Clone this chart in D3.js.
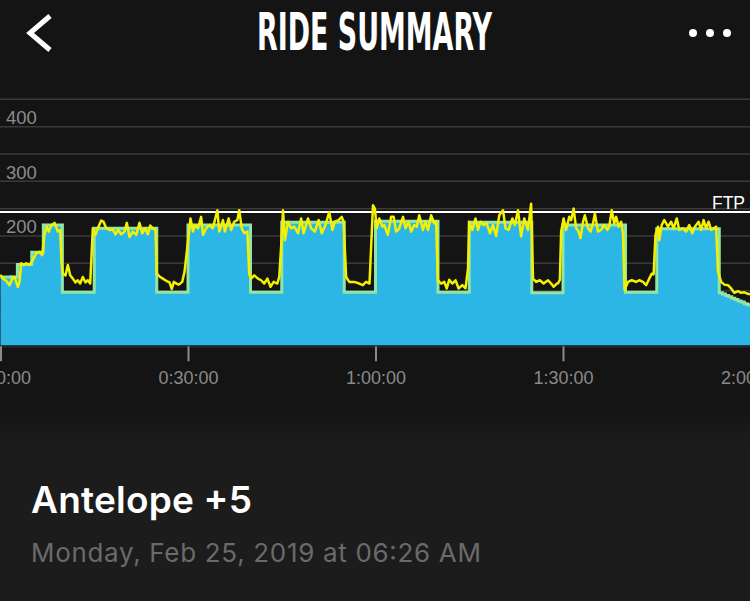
<!DOCTYPE html>
<html>
<head>
<meta charset="utf-8">
<script src="https://cdn.jsdelivr.net/npm/d3@7"></script>
<style>
  html, body { margin: 0; padding: 0; background: #141414; }
  svg { display: block; }
</style>
</head>
<body>
<svg id="chart" width="750" height="601"></svg>
<script>
// target (ERG) profile: step starts in minutes and watts
var targetStart = [0, 2.7, 5, 6.85, 9.9, 15, 25, 30, 40, 45, 55, 60, 70, 75, 85, 90, 100, 105, 115,
                   115.5, 116, 116.5, 117, 117.5, 118, 118.5, 119, 119.5, 120];
var targetWatts = [125, 148, 170, 220, 97, 214, 97, 220, 97, 225, 97, 227, 97, 225, 96, 220, 97, 213, 96,
                   94, 91, 89, 86, 84, 81, 79, 76, 74, 74];

var actualPower = [
  [0,129],[0.37,122],[0.91,118],[1.44,110],[1.87,122],[2.24,125],[2.77,107],[3.04,116],[3.31,150],[3.68,147],
  [4.11,150],[4.64,147],[5.17,156],[5.71,168],[6.24,171],[6.67,165],[7.04,202],[7.41,217],[7.73,208],[8.11,219],
  [8.64,224],[9.17,208],[9.55,211],[9.76,153],[9.97,131],[10.4,128],[10.77,147],[11.15,128],[11.57,122],[12.0,115],
  [12.37,119],[12.75,113],[13.17,125],[13.6,115],[13.97,119],[14.35,113],[14.77,214],[15.2,202],[15.57,214],[16.1,228],
  [16.48,226],[16.91,214],[17.44,211],[17.97,212],[18.4,203],[18.83,211],[19.31,203],[19.84,208],[20.21,224],[20.64,198],
  [21.17,208],[21.71,202],[22.24,224],[22.67,205],[23.15,214],[23.57,203],[23.95,219],[24.37,214],[24.8,211],[25.01,131],
  [25.44,126],[25.97,122],[26.51,118],[27.04,115],[27.41,103],[27.73,116],[28.11,113],[28.53,111],[29.07,116],[29.44,134],
  [29.7,160],[30.1,200],[30.4,232],[30.8,208],[31.1,220],[31.6,214],[32.1,235],[32.4,202],[32.9,214],[33.4,220],
  [33.97,214],[34.7,247],[35.0,208],[35.6,229],[35.9,208],[36.5,232],[36.9,211],[37.4,226],[37.9,229],[38.2,247],
  [38.6,214],[39.0,205],[39.5,208],[39.8,130],[40.1,122],[40.6,128],[41.2,122],[41.7,119],[42.2,113],[42.7,122],
  [43.2,107],[43.7,116],[44.3,113],[44.6,125],[44.9,180],[45.2,247],[45.5,192],[46.0,226],[46.5,214],[47.0,217],
  [47.6,205],[48.1,232],[48.5,205],[49.2,232],[49.7,214],[50.3,208],[50.9,229],[51.4,205],[52.0,220],[52.6,244],
  [53.1,211],[53.5,226],[54.1,229],[54.6,235],[54.9,226],[55.3,125],[55.8,116],[56.6,116],[57.4,113],[57.97,110],
  [58.5,116],[59.04,113],[59.3,180],[59.6,256],[59.9,250],[60.2,214],[60.6,232],[61.1,217],[61.4,220],[61.97,202],
  [62.5,235],[62.9,235],[63.3,208],[63.8,214],[64.4,235],[64.8,214],[65.3,226],[65.7,208],[66.2,220],[66.6,217],
  [67.0,238],[67.6,211],[68.0,226],[68.4,211],[68.9,238],[69.4,223],[69.7,226],[69.97,119],[70.5,113],[71.0,116],
  [71.4,104],[71.8,120],[72.3,113],[72.8,119],[73.3,104],[73.9,110],[74.4,104],[74.8,140],[75.0,226],[75.5,211],
  [76.0,232],[76.4,211],[76.8,226],[77.3,220],[77.8,223],[78.3,205],[78.8,220],[79.3,200],[79.8,238],[80.4,247],
  [80.8,214],[81.3,211],[81.9,232],[82.3,220],[82.8,247],[83.3,199],[83.8,232],[84.4,211],[84.9,259],[85.2,122],
  [85.7,116],[86.3,119],[86.9,113],[87.6,119],[88.1,113],[88.5,107],[89.0,113],[89.2,113],[89.5,120],[89.7,208],
  [90.1,232],[90.5,211],[91.0,235],[91.3,229],[91.7,250],[92.1,214],[92.5,208],[92.8,196],[93.2,226],[93.5,238],
  [94.0,214],[94.4,208],[94.8,223],[95.1,241],[95.6,208],[96.1,211],[96.6,220],[97.1,211],[97.4,217],[97.8,247],
  [98.2,223],[98.5,235],[98.9,217],[99.3,226],[99.6,205],[99.85,101],[100.4,116],[101.0,119],[101.7,116],[102.2,119],
  [102.8,116],[103.3,110],[103.8,122],[104.2,131],[104.5,130],[104.8,202],[105.2,217],[105.4,192],[105.8,220],[106.2,229],
  [106.8,217],[107.3,226],[107.7,214],[108.2,232],[108.6,211],[109.2,214],[109.7,208],[110.2,220],[110.7,205],[111.1,217],
  [111.7,226],[112.1,211],[112.5,229],[112.9,214],[113.3,226],[113.7,211],[114.1,214],[114.5,217],[114.8,135],[115.3,116],
  [115.8,111],[116.4,110],[116.9,104],[117.4,96],[118.0,99],[118.5,96],[119.0,97],[119.6,94],[120,94]
];

var ftpWatts = 244;
var gridValues = [50, 100, 150, 200, 250, 300, 350, 400, 450];
var labelValues = [100, 200, 300, 400];
var timeTicks = [0, 30, 60, 90, 120];

var svg = d3.select("#chart");

var x = d3.scaleLinear().domain([0, 120]).range([0.5, 750.5]);
var y = d3.scaleLinear().domain([0, 450]).range([345.3, 99.3]);

// backgrounds: chart panel fades into the lighter info panel
var grad = svg.append("defs").append("linearGradient")
    .attr("id", "bgfade").attr("x1", 0).attr("x2", 0).attr("y1", 0).attr("y2", 1);
grad.append("stop").attr("offset", "0%").attr("stop-color", "#141414");
grad.append("stop").attr("offset", "100%").attr("stop-color", "#1c1c1c");

svg.append("rect").attr("width", 750).attr("height", 601).attr("fill", "#141414");
svg.append("rect").attr("y", 405).attr("width", 750).attr("height", 40).attr("fill", "url(#bgfade)");
svg.append("rect").attr("y", 445).attr("width", 750).attr("height", 156).attr("fill", "#1c1c1c");

// grid lines
svg.append("g").selectAll("line").data(gridValues).join("line")
    .attr("x1", 0).attr("x2", 750)
    .attr("y1", function(d){ return y(d); })
    .attr("y2", function(d){ return y(d); })
    .attr("stroke", "#3a3a3a")
    .attr("stroke-width", 1.5);

// y labels sit just above their grid line (under the area)
svg.append("g").selectAll("text").data(labelValues).join("text")
    .attr("x", 6)
    .attr("y", function(d){ return y(d) - 2.5; })
    .attr("fill", "#8c8c8c")
    .attr("font-family", "Liberation Sans, Arial, sans-serif")
    .attr("font-size", 18.5)
    .text(function(d){ return d; });

var targetData = targetStart.map(function(t, i){ return [t, targetWatts[i]]; });

var area = d3.area()
    .curve(d3.curveStepAfter)
    .x(function(d){ return x(d[0]); })
    .y0(y(0))
    .y1(function(d){ return y(d[1]); });

var outline = d3.line()
    .curve(d3.curveStepAfter)
    .x(function(d){ return x(d[0]); })
    .y(function(d){ return y(d[1]); });

svg.append("path").datum(targetData)
    .attr("d", area)
    .attr("fill", "#2bb6e6");

svg.append("path").datum(targetData)
    .attr("d", outline)
    .attr("fill", "none")
    .attr("stroke", "#92e6a2")
    .attr("stroke-width", 3);

// FTP line
svg.append("line")
    .attr("x1", 0).attr("x2", 750)
    .attr("y1", y(ftpWatts)).attr("y2", y(ftpWatts))
    .attr("stroke", "#ffffff")
    .attr("stroke-width", 2);

svg.append("text")
    .attr("x", 745).attr("y", y(ftpWatts) - 3)
    .attr("text-anchor", "end")
    .attr("fill", "#ffffff")
    .attr("font-family", "Liberation Sans, Arial, sans-serif")
    .attr("font-size", 17.5)
    .text("FTP");

// actual power
var powerLine = d3.line()
    .x(function(d){ return x(d[0]); })
    .y(function(d){ return y(d[1]); });

svg.append("path").datum(actualPower)
    .attr("d", powerLine)
    .attr("fill", "none")
    .attr("stroke", "#f5f000")
    .attr("stroke-width", 2.5)
    .attr("stroke-linejoin", "round");

// time axis (end labels are clipped by the edges, as in the app)
function fmtTime(m){
  var h = Math.floor(m / 60), mm = m % 60;
  return h + ":" + (mm < 10 ? "0" : "") + mm + ":00";
}

var xAxis = svg.append("g")
    .attr("transform", "translate(0," + (y(0) + 1) + ")")
    .call(d3.axisBottom(x).tickValues(timeTicks).tickSize(15).tickFormat(fmtTime));

xAxis.select(".domain").attr("stroke", "#262626").attr("stroke-width", 1.5);
xAxis.selectAll(".tick line").attr("stroke", "#8a8a8a").attr("stroke-width", 2);
xAxis.selectAll(".tick text")
    .attr("y", 38).attr("dy", null)
    .attr("fill", "#8a8a8a")
    .attr("font-family", "Liberation Sans, Arial, sans-serif")
    .attr("font-size", 18);

// header
svg.append("polyline")
    .attr("points", "50,16 30,33 50,50")
    .attr("fill", "none")
    .attr("stroke", "#ffffff")
    .attr("stroke-width", 5);

svg.append("text")
    .attr("x", 374.5).attr("y", 50)
    .attr("text-anchor", "middle")
    .attr("fill", "#ffffff")
    .attr("font-family", "DejaVu Sans Condensed, DejaVu Sans, sans-serif")
    .attr("font-weight", "bold")
    .attr("font-size", 51)
    .attr("textLength", 235)
    .attr("lengthAdjust", "spacingAndGlyphs")
    .text("RIDE SUMMARY");

svg.append("g").selectAll("circle").data([693, 710, 727]).join("circle")
    .attr("cx", function(d){ return d; })
    .attr("cy", 33)
    .attr("r", 4)
    .attr("fill", "#ffffff");

// ride title
svg.append("text")
    .attr("x", 31).attr("y", 513)
    .attr("fill", "#ffffff")
    .attr("font-family", "Inter, Roboto, sans-serif")
    .attr("font-weight", 600)
    .attr("font-size", 37)
    .attr("textLength", 221)
    .text("Antelope +5");

svg.append("text")
    .attr("x", 31).attr("y", 562)
    .attr("fill", "#6a6a6a")
    .attr("font-family", "Inter, Roboto, sans-serif")
    .attr("font-size", 26)
    .attr("textLength", 450)
    .text("Monday, Feb 25, 2019 at 06:26 AM");
</script>
</body>
</html>
